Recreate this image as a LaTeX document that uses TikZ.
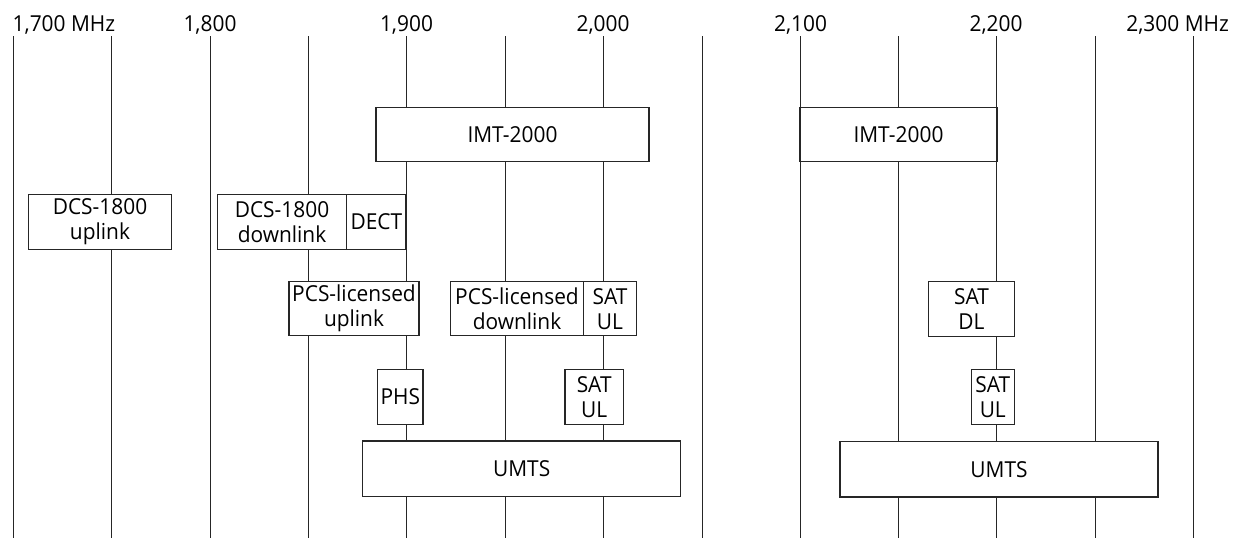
\documentclass[tikz,border=0pt]{standalone}
\usepackage{fontspec}
\setmainfont[FakeStretch=0.95]{Open Sans}
\begin{document}
\begin{tikzpicture}[x=1pt,y=-1pt,
  txt/.style={font=\fontsize{22}{25}\selectfont},
  band/.style={txt, draw=black!85, fill=white, line width=1.2pt, inner sep=0pt, align=center},
  gridline/.style={draw=black!85, line width=1.2pt},
  lbl/.style={txt, inner sep=0pt}]
\useasboundingbox (0,0) rectangle (1238,538);
\foreach \x [count=\k] in {13.5,111.5,210.5,308.5,406.5,505.5,603.5,702.5,800.5,898.5,996.5,1095.5,1193.5} {
  \coordinate (t\k) at (\x,36);
  \coordinate (b\k) at (\x,538);
  \draw[gridline] (t\k) -- (b\k);
}
% frequency labels
\node[lbl, anchor=base west] (l1700) at (12.5,31) {1,700 MHz};
\node[lbl, anchor=base] (l1800) at (210,31) {1,800};
\node[lbl, anchor=base] (l1900) at (406.5,31) {1,900};
\node[lbl, anchor=base] (l2000) at (603,31) {2,000};
\node[lbl, anchor=base] (l2100) at (800.5,31) {2,100};
\node[lbl, anchor=base] (l2200) at (996,31) {2,200};
\node[lbl, anchor=base east] (l2300) at (1229,31) {2,300 MHz};
% bands
\node[band, minimum width=273pt, minimum height=54.4pt] (imtL) at (512.5,134.5) {IMT-2000};
\node[band, minimum width=197pt, minimum height=54.4pt] (imtR) at (898.5,134.5) {IMT-2000};
\node[band, minimum width=143.4pt, minimum height=55pt] (dcsU) at (100,221.8) {DCS-1800\\uplink};
\node[band, minimum width=129.4pt, minimum height=55pt] (dcsD) at (282,221.8) {DCS-1800\\downlink};
\node[band, minimum width=59.3pt, minimum height=55pt] (dect) at (376.35,221.8) {DECT};
\node[band, minimum width=130pt, minimum height=54pt] (pcsU) at (354,308.7) {PCS-licensed\\uplink};
\node[band, minimum width=132.6pt, minimum height=54pt] (pcsD) at (517,308.7) {PCS-licensed\\downlink};
\node[band, minimum width=53.4pt, minimum height=54pt] (satA) at (610,308.7) {SAT\\UL};
\node[band, minimum width=45.3pt, minimum height=55pt] (phs) at (400.35,396.8) {PHS};
\node[band, minimum width=58.3pt, minimum height=55pt] (satB) at (594.15,396.8) {SAT\\UL};
\node[band, minimum width=318pt, minimum height=55.7pt] (umtsL) at (521.7,468.85) {UMTS};
\node[band, minimum width=85.6pt, minimum height=55pt] (satDL) at (971.5,309.2) {SAT\\DL};
\node[band, minimum width=43pt, minimum height=55.4pt] (satC) at (992.8,397) {SAT\\UL};
\node[band, minimum width=318pt, minimum height=55.3pt] (umtsR) at (999,469.35) {UMTS};
\end{tikzpicture}
\end{document}
